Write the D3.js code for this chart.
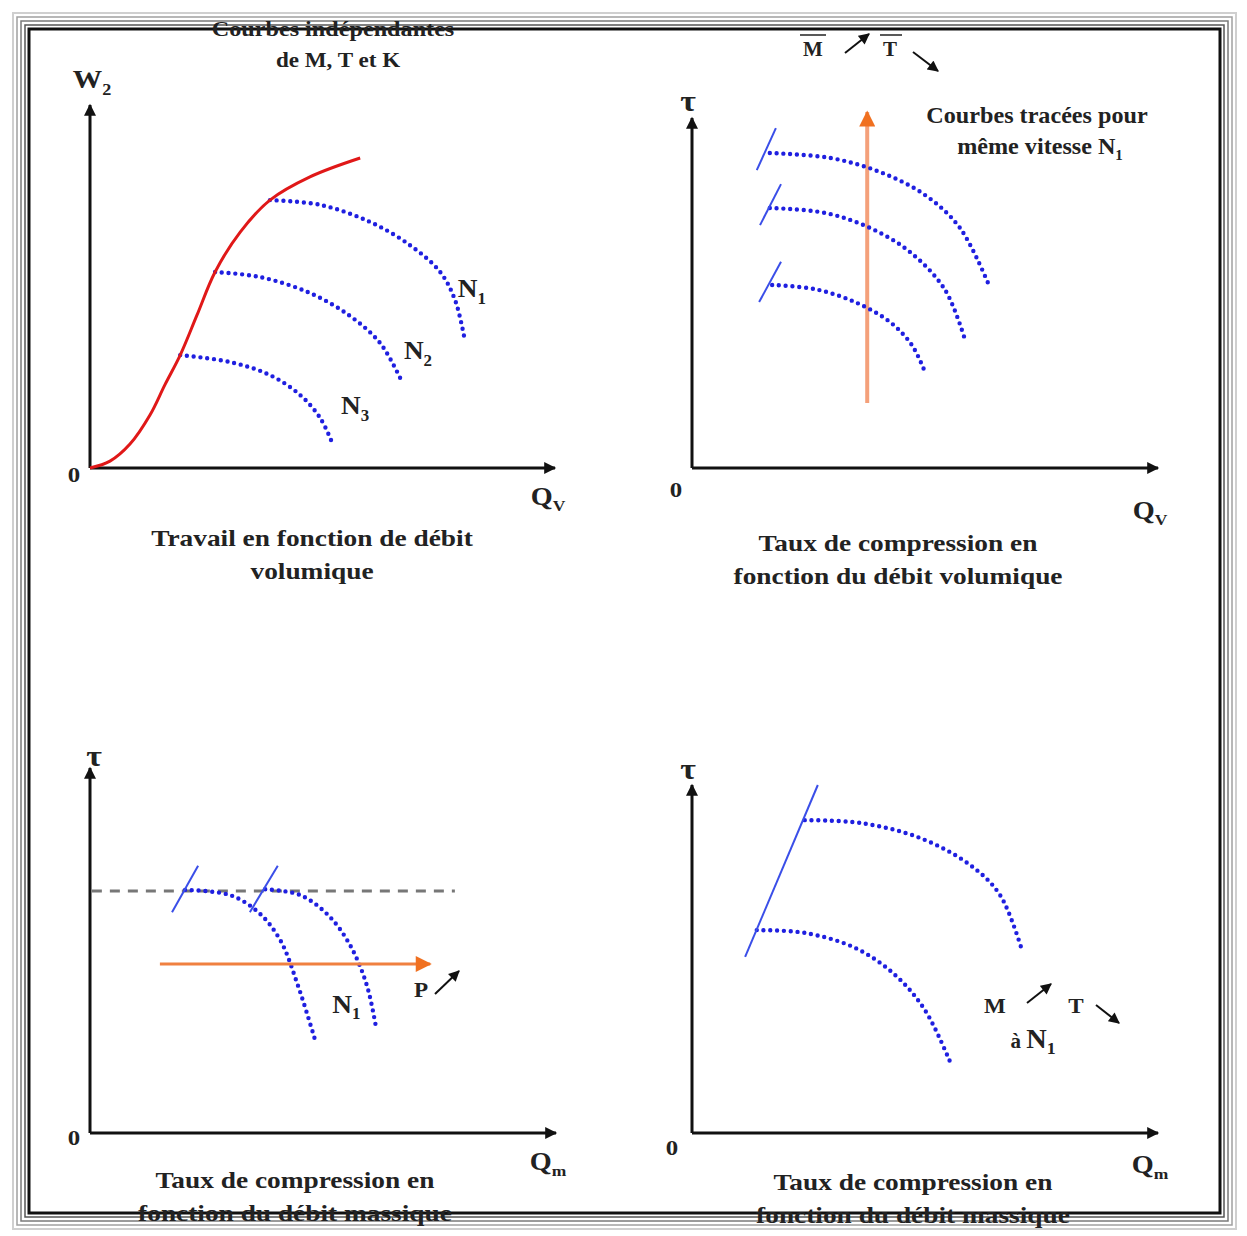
<!DOCTYPE html>
<html><head><meta charset="utf-8">
<script src="https://cdn.jsdelivr.net/npm/d3@7"></script>
<style>
html,body{margin:0;padding:0;background:#fff;}
text{font-family:"Liberation Serif","Times New Roman",serif;font-weight:bold;fill:#222;}
</style></head>
<body><svg id="c" width="1247" height="1236"></svg>
<script>
// ---------- data (each panel: 0..100 units on both axes) ----------
// Panel A : travail W2 vs débit volumique Qv
const workCurve = [[0,0],[4.3,1.9],[8.6,6.6],[12.9,14.6],[16.1,22.9],[19.4,31.1],[23.0,42.1],[26.9,54.0],[32.3,65.0],[38.7,73.8],[47.3,80.2],[58.1,85.4]];
const speedN1 = [[38.7,73.8],[49.5,72.5],[60.2,67.8],[68.8,61.4],[75.3,54.0],[78.5,46.3],[80.6,35.3]];
const speedN2 = [[26.9,54.0],[36.6,52.6],[47.3,48.2],[55.9,41.9],[62.4,34.4],[66.7,24.8]];
const speedN3 = [[19.4,31.1],[30.1,29.2],[38.7,25.6],[45.2,20.1],[49.5,13.8],[52.0,7.2]];
const speedLabelsA = [{t:"N",s:"1",x:79.1,y:47.0},{t:"N",s:"2",x:67.5,y:30.0},{t:"N",s:"3",x:54.0,y:14.8}];
// Panel B : taux de compression vs Qv, M et T variables
const tauQvHigh = [[16.7,90.0],[29.6,88.6],[40.3,84.6],[50.0,78.0],[57.5,68.6],[63.9,51.7]];
const tauQvMid  = [[16.7,74.3],[28.5,72.9],[38.2,68.6],[46.8,61.7],[54.3,50.9],[58.6,36.6]];
const tauQvLow  = [[17.2,52.3],[26.4,51.1],[35.0,47.4],[42.5,41.7],[47.2,35.1],[50.0,27.4]];
const surgeB = [[[13.9,85.1],[18.0,97.1]],[[14.6,69.4],[19.1,81.1]],[[14.4,47.4],[19.1,58.9]]];
const arrowB = [[37.6,18.6],[37.6,101.7]];
// Panel C : taux de compression vs débit massique, P variable
const tauQmLeft  = [[20.4,66.6],[30.0,65.2],[36.1,60.5],[40.8,52.9],[44.6,40.5],[48.3,25.5]];
const tauQmRight = [[37.6,66.8],[45.1,65.2],[51.1,59.7],[55.8,51.5],[59.4,40.5],[61.4,28.8]];
const surgeC = [[[17.6,60.5],[23.2,73.2]],[[34.3,60.5],[40.3,73.2]]];
const refLineC = [[0.4,66.3],[78.3,66.3]];
const arrowC = [[15.0,46.3],[73.0,46.3]];
// Panel D : taux de compression vs débit massique, M et T à N1
const tauMTHigh = [[24.2,89.9],[36.1,89.1],[48.9,84.8],[59.7,77.0],[66.1,68.4],[70.8,52.6]];
const tauMTLow  = [[13.9,58.3],[24.2,57.5],[35.0,53.2],[43.6,45.4],[50.0,35.3],[55.4,20.4]];
const surgeD = [[11.4,50.6],[27.0,100]];

const panels = [
  {ox:90, oy:468, x1:555, y1:105, ylab:"W", ysub:"2", yl:[92,88], xl:"Q", xsub:"V", xlp:[548,505], zero:[74,482],
   cap:["Travail en fonction de débit","volumique"], capPos:[312,546]},
  {ox:692, oy:468, x1:1158, y1:118, ylab:"τ", ysub:"", yl:[688,111], xl:"Q", xsub:"V", xlp:[1150,519], zero:[676,497],
   cap:["Taux de compression en","fonction du débit volumique"], capPos:[898,551]},
  {ox:90, oy:1133, x1:556, y1:768, ylab:"τ", ysub:"", yl:[94,766], xl:"Q", xsub:"m", xlp:[548,1170], zero:[74,1145],
   cap:["Taux de compression en","fonction du débit massique"], capPos:[295,1188]},
  {ox:692, oy:1133, x1:1158, y1:785, ylab:"τ", ysub:"", yl:[688,779], xl:"Q", xsub:"m", xlp:[1150,1173], zero:[672,1155],
   cap:["Taux de compression en","fonction du débit massique"], capPos:[913,1190]}
];

const svg = d3.select("#c");
const W = 1247, H = 1236;

// ---------- frame ----------
const frame = [{o:13,c:"#cfcfcf",w:2},{o:17,c:"#a0a0a0",w:1.5},{o:21,c:"#7a7a7a",w:1.5},{o:25,c:"#555",w:1.5},{o:29,c:"#111",w:3}];
frame.forEach(f=>{
  const d=f.o-29;
  svg.append("rect").attr("x",29+d).attr("y",29+d).attr("width",1220-29-2*d).attr("height",1213-29-2*d)
    .attr("fill","none").attr("stroke",f.c).attr("stroke-width",f.w);
});

const defs = svg.append("defs");
function marker(id,color,w,h){
  defs.append("marker").attr("id",id).attr("viewBox","0 0 10 10").attr("refX",9).attr("refY",5)
    .attr("markerWidth",w).attr("markerHeight",h).attr("markerUnits","userSpaceOnUse").attr("orient","auto")
    .append("path").attr("d","M0,0L10,5L0,10Z").attr("fill",color);
}
marker("axHead","#111",16,12);
marker("orHead","#f07020",18,16);
marker("smHead","#111",12,11);

const BLUE = "#1f1fe0";
const SX = 1.13; // horizontal stretch of the serif lettering
function txt(g,x,y,size,anchor,sx){
  return g.append("text").attr("transform",`translate(${x},${y}) scale(${sx||SX},1)`)
    .attr("font-size",size).attr("text-anchor",anchor||"middle");
}
function dotted(g,line,data){
  g.append("path").attr("d",line(data)).attr("fill","none").attr("stroke",BLUE)
   .attr("stroke-width",4.4).attr("stroke-linecap","round").attr("stroke-dasharray","0 6.8");
}
function solid(g,line,data,color,w,mk){
  const p=g.append("path").attr("d",line(data)).attr("fill","none").attr("stroke",color).attr("stroke-width",w);
  if(mk) p.attr("marker-end","url(#"+mk+")");
  return p;
}
function sub(g,x,y,t,s,size,anchor,sx){
  const tx=txt(g,x,y,size,anchor,sx);
  tx.append("tspan").text(t);
  if(s) tx.append("tspan").attr("dy",size*0.25).attr("font-size",size*0.62).text(s);
  return tx;
}
function arrow(g,x1,y1,x2,y2){
  g.append("line").attr("x1",x1).attr("y1",y1).attr("x2",x2).attr("y2",y2)
   .attr("stroke","#111").attr("stroke-width",2).attr("marker-end","url(#smHead)");
}

const scales = panels.map(p=>{
  const x=d3.scaleLinear().domain([0,100]).range([p.ox,p.x1]);
  const y=d3.scaleLinear().domain([0,100]).range([p.oy,p.y1]);
  const line=d3.line().x(d=>x(d[0])).y(d=>y(d[1])).curve(d3.curveCatmullRom.alpha(0.5));
  const straight=d3.line().x(d=>x(d[0])).y(d=>y(d[1]));
  return {x,y,line,straight};
});

panels.forEach((p,i)=>{
  const g=svg.append("g");
  const s=scales[i];
  solid(g,s.straight,[[0,0],[0,100]],"#111",3,"axHead");
  solid(g,s.straight,[[0,0],[100,0]],"#111",3,"axHead");
  sub(g,p.yl[0],p.yl[1],p.ylab,p.ysub,p.ylab==="τ"?30:26);
  sub(g,p.xlp[0],p.xlp[1],p.xl,p.xsub,25);
  txt(g,p.zero[0],p.zero[1],22).text("0");
  p.cap.forEach((c,k)=>txt(g,p.capPos[0],p.capPos[1]+k*33,24,"middle",1.14).text(c));
});

// Panel A
{
  const s=scales[0], g=svg.append("g");
  [speedN1,speedN2,speedN3].forEach(d=>dotted(g,s.line,d));
  solid(g,s.line,workCurve,"#e01818",3);
  speedLabelsA.forEach(l=>sub(g,s.x(l.x),s.y(l.y),l.t,l.s,26,"start",1.05));
  txt(g,333,36,22,"middle",1.1).text("Courbes indépendantes");
  txt(g,338,67,22,"middle",1.05).text("de M, T et K");
}
// Panel B
{
  const s=scales[1], g=svg.append("g");
  solid(g,s.straight,arrowB,"#f4a07a",4,"orHead");
  [tauQvHigh,tauQvMid,tauQvLow].forEach(d=>dotted(g,s.line,d));
  surgeB.forEach(d=>solid(g,s.straight,d,"#3a4ee8",2));
  txt(g,1037,123,23,"middle",1.05).text("Courbes tracées pour");
  sub(g,1040,154,"même vitesse N","1",23,"middle",1.05);
  txt(g,813,56,20,"middle",1.05).text("M");
  g.append("line").attr("x1",800).attr("x2",826).attr("y1",35).attr("y2",35).attr("stroke","#222").attr("stroke-width",1.5);
  txt(g,890,56,20,"middle",1.05).text("T");
  g.append("line").attr("x1",880).attr("x2",902).attr("y1",35).attr("y2",35).attr("stroke","#222").attr("stroke-width",1.5);
  arrow(g,845,53,869,34);
  arrow(g,913,52,938,71);
}
// Panel C
{
  const s=scales[2], g=svg.append("g");
  solid(g,s.straight,refLineC,"#777",3).attr("stroke-dasharray","10 8");
  [tauQmLeft,tauQmRight].forEach(d=>dotted(g,s.line,d));
  surgeC.forEach(d=>solid(g,s.straight,d,"#3a4ee8",2));
  solid(g,s.straight,arrowC,"#f08040",3,"orHead");
  txt(g,421,997,22,"middle",1.05).text("P");
  arrow(g,435,994,459,971);
  sub(g,s.x(55),s.y(33),"N","1",26,"middle",1.05);
}
// Panel D
{
  const s=scales[3], g=svg.append("g");
  [tauMTHigh,tauMTLow].forEach(d=>dotted(g,s.line,d));
  solid(g,s.straight,surgeD,"#3a4ee8",2);
  txt(g,995,1013,22,"middle",1.05).text("M");
  arrow(g,1027,1003,1051,984);
  txt(g,1076,1013,22,"middle",1.05).text("T");
  arrow(g,1096,1005,1119,1023);
  const t=txt(g,1033,1048,20,"middle",1.05);
  t.append("tspan").attr("font-size",20).text("à ");
  t.append("tspan").attr("font-size",27).text("N");
  t.append("tspan").attr("font-size",17).attr("dy",6).text("1");
}
</script></body></html>
